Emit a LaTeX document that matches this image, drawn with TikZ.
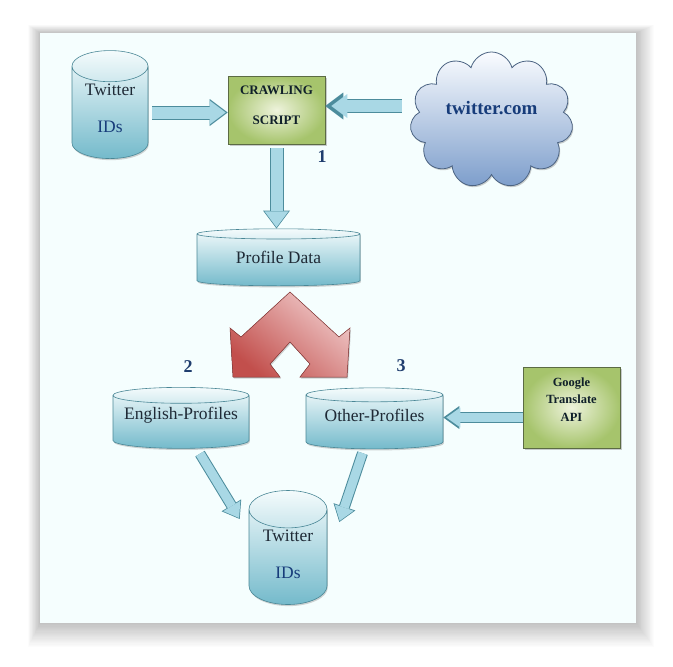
\documentclass[tikz,border=0pt]{standalone}
\usepackage{fontspec}
\setmainfont{Liberation Serif}
\usetikzlibrary{shapes.geometric,shapes.symbols,arrows.meta,shadows,calc}

\definecolor{panelbg}{HTML}{F5FEFE}
\definecolor{cyltop}{HTML}{F4FBFC}
\definecolor{cylbot}{HTML}{74BACB}
\definecolor{cyledge}{HTML}{4A8796}
\definecolor{arrowfill}{HTML}{A9D8E5}
\definecolor{arrowedge}{HTML}{4C8C9C}
\definecolor{boxdark}{HTML}{A6C46C}
\definecolor{boxlight}{HTML}{EEF3DC}
\definecolor{boxedge}{HTML}{5B6B44}
\definecolor{cloudtop}{HTML}{FAFCFF}
\definecolor{cloudbot}{HTML}{7C9DCB}
\definecolor{cloudedge}{HTML}{4B6382}
\definecolor{chevdark}{HTML}{C24F4C}
\definecolor{chevlight}{HTML}{F0CACA}
\definecolor{chevedge}{HTML}{8A3A39}
\definecolor{txtdark}{HTML}{1F2A36}
\definecolor{idblue}{HTML}{173C7A}
\definecolor{numblue}{HTML}{1F3D6E}
\definecolor{boxtext}{HTML}{10202A}

% the cylinder end needs text of the right size, so it is kept as a phantom
\newcommand{\twoline}{Twitter\\[17pt]IDs}

\tikzset{
  store/.style={cylinder, shape border rotate=90, draw=cyledge, line width=0.6pt,
    top color=cyltop, bottom color=cylbot,
    drop shadow={opacity=0.35, shadow xshift=0.8pt, shadow yshift=-1.6pt},
    font=\fontsize{17.5}{20}\selectfont, align=center, inner sep=0pt},
  storetext/.style={text=txtdark, font=\fontsize{17.5}{20}\selectfont, align=center},
  script/.style={rectangle, draw=boxedge, line width=0.6pt, inner color=boxlight, outer color=boxdark,
    drop shadow={opacity=0.4, shadow xshift=1.5pt, shadow yshift=-1.5pt}, inner sep=0pt},
  scripttext/.style={text=boxtext, align=center},
  blockarrow/.style={draw=arrowfill, line width=12pt,
    -{Triangle[length=16pt, width=24pt, line width=0pt]}, shorten >=1.2pt,
    preaction={draw=arrowedge, line width=14pt,
      -{Triangle[length=18pt, width=27pt, line width=0pt]}, shorten >=0pt}},
  thinarrow/.style={draw=arrowfill, line width=9pt,
    -{Triangle[length=14pt, width=20pt, line width=0pt]}, shorten >=1.2pt,
    preaction={draw=arrowedge, line width=11pt,
      -{Triangle[length=16pt, width=23pt, line width=0pt]}, shorten >=0pt}},
  num/.style={font=\bfseries\fontsize{18}{20}\selectfont, text=numblue}
}

\begin{document}
\begin{tikzpicture}[x=1pt, y=-1pt]
  \useasboundingbox (0,0) rectangle (673,667);
  \fill[white] (0,0) rectangle (673,667);
  % panel and its soft shadow
  \foreach \s in {1,...,20}
    \fill[black, opacity=0.012] (40-0.6*\s, 33-0.4*\s) rectangle (636+0.9*\s, 623+1.2*\s);
  \fill[panelbg] (40,33) rectangle (636,623);

  \node[store, minimum width=76pt, minimum height=108pt, aspect=0.5,
    label={[storetext, yshift=4pt]center:{Twitter\\[17pt]{\color{idblue}IDs}}}] (ids1) at (110,112.5)
    {\phantom{\begin{tabular}{c}Twitter\\[17pt]IDs\end{tabular}}};
  \node[script, minimum width=97pt, minimum height=68pt,
    label={[scripttext, font=\bfseries\fontsize{13}{15}\selectfont, yshift=4.5pt]center:{CRAWLING\\[15pt]SCRIPT}}]
    (crawl) at (276.5,110) {};
  \node[cloud, cloud puffs=11, aspect=1.2, minimum width=163pt, minimum height=136pt,
    draw=cloudedge, line width=0.8pt, top color=cloudtop, bottom color=cloudbot,
    drop shadow={opacity=0.4, shadow xshift=1pt, shadow yshift=-1.5pt},
    label={[font=\bfseries\fontsize{19}{22}\selectfont, text=idblue, yshift=12pt]center:twitter.com}]
    (web) at (491.5,120) {};

  \node[store, minimum width=163pt, minimum height=57pt, aspect=0.12,
    label={[storetext, yshift=2.5pt]center:Profile Data}] (profile) at (278.5,260) {\phantom{Profile Data}};
  \node[store, minimum width=136pt, minimum height=61pt, aspect=0.14,
    label={[storetext, yshift=6.5pt]center:English-Profiles}] (english) at (181,422) {\phantom{English-Profiles}};
  \node[store, minimum width=137pt, minimum height=61pt, aspect=0.14,
    label={[storetext, yshift=6.5pt]center:Other-Profiles}] (other) at (374.5,422) {\phantom{Other-Profiles}};
  \node[script, minimum width=97pt, minimum height=81pt,
    label={[scripttext, font=\bfseries\fontsize{12.5}{17.5}\selectfont, yshift=8pt]center:{Google\\Translate\\API}}]
    (google) at (571.5,407.5) {};
  \node[store, minimum width=78pt, minimum height=114pt, aspect=0.6,
    label={[storetext, yshift=2.5pt]center:{Twitter\\[17pt]{\color{idblue}IDs}}}] (ids2) at (288,557)
    {\phantom{\begin{tabular}{c}Twitter\\[17pt]IDs\end{tabular}}};

  \node[num] (n1) at (322,157) {1};
  \node[num] (n2) at (188,367) {2};
  \node[num] (n3) at (401,366) {3};

  % split arrow below the profile data
  \filldraw[draw=chevedge, line width=0.5pt, top color=chevlight, bottom color=chevdark,
    shading angle=-40, drop shadow={opacity=0.35, shadow xshift=1pt, shadow yshift=-1.5pt}]
    (290,292) -- (339,337) -- (350,328) -- (347,377) -- (300,377) -- (310,364) -- (290,342)
    -- (270,364) -- (280,377) -- (233,377) -- (230,328) -- (241,337) -- cycle;

  \draw[blockarrow, shorten <=4pt, shorten >=2pt] (ids1.east) -- (ids1.east -| crawl.west);
  \draw[blockarrow, shorten <=10pt, shorten >=6pt] ([yshift=14pt]web.west) -- ([yshift=14pt]web.west -| crawl.east);
  \draw[blockarrow, shorten <=4pt] (crawl.south) -- (crawl.south |- profile.north);
  \draw[thinarrow, shorten >=3pt] ([yshift=-10pt]google.west) -- ([yshift=-10pt]google.west -| other.east);
  \draw[thinarrow] ($(english.south)+(19,5)$) -- ($(ids2.west)+(-9,-38)$);
  \draw[thinarrow] ($(other.south)+(-12,4)$) -- ($(ids2.east)+(12,-35)$);
\end{tikzpicture}
\end{document}
